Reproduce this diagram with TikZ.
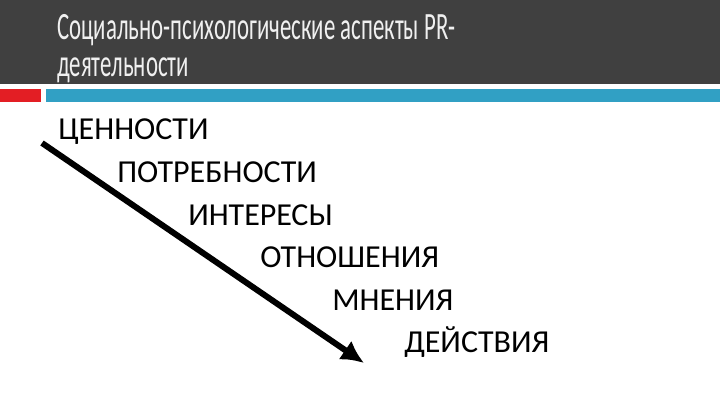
\documentclass[tikz,border=0pt]{standalone}
\usepackage{fontspec}
\setmainfont{Carlito}
\newfontfamily\titlefont[FakeStretch=0.59]{Carlito}
\usetikzlibrary{arrows.meta}
\definecolor{headgray}{HTML}{404040}
\definecolor{barred}{HTML}{E31E24}
\definecolor{barteal}{HTML}{31A0C4}
\begin{document}
\begin{tikzpicture}[x=0.75pt, y=-0.75pt,
    title/.style={anchor=base west, inner sep=0pt, text=white!94!black, font=\titlefont\fontsize{29}{32}\selectfont},
    item/.style={anchor=base west, inner sep=0pt, font=\fontsize{24}{28}\selectfont}]
    \useasboundingbox (0,0) rectangle (720,405);
    % header
    \fill[headgray] (0,0) rectangle (720,84);
    \fill[barred] (0,89) rectangle (41,102);
    \fill[barteal] (46,89) rectangle (720,102);
    \node[title] (t1) at (57,39) {Социально-психологические аспекты PR-};
    \node[title] (t2) at (57,76) {деятельности};

    % steps
    \node[item] (v1) at (58,139) {ЦЕННОСТИ};
    \node[item] (v2) at (117,182) {ПОТРЕБНОСТИ};
    \node[item] (v3) at (188,225) {ИНТЕРЕСЫ};
    \node[item] (v4) at (260,267) {ОТНОШЕНИЯ};
    \node[item] (v5) at (332,310) {МНЕНИЯ};
    \node[item] (v6) at (404,352) {ДЕЙСТВИЯ};

    \coordinate (s) at (42,143);
    \coordinate (e) at (364,363);
    \draw[line width=4.5pt, -{Latex[length=17pt, width=17pt]}] (s) -- (e);
\end{tikzpicture}
\end{document}
